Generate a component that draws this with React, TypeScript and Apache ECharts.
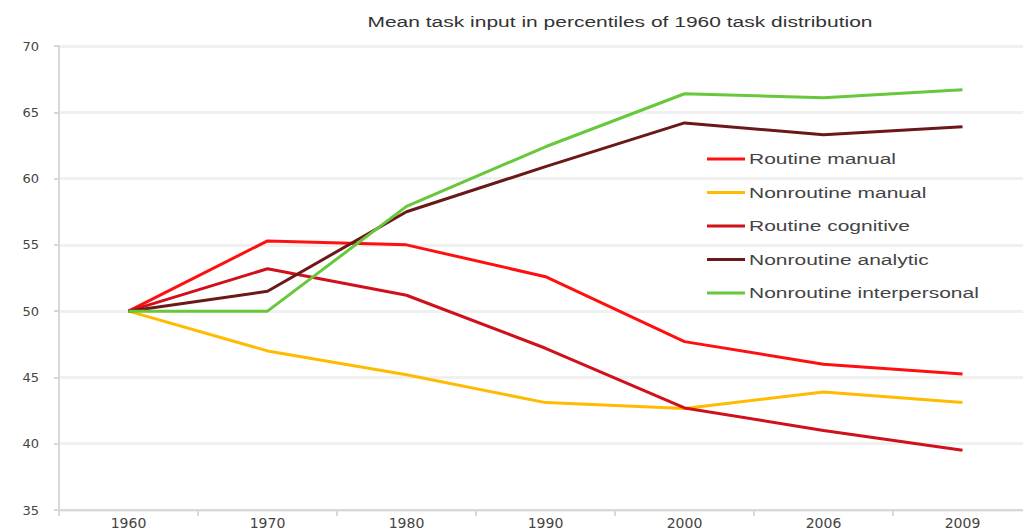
import React, { useEffect, useRef } from "react";
import * as echarts from "echarts";

const years = ["1960", "1970", "1980", "1990", "2000", "2006", "2009"];
const routineManual = [50, 55.3, 55.0, 52.6, 47.7, 46.0, 45.25];
const nonroutineManual = [50, 47.0, 45.2, 43.1, 42.65, 43.9, 43.1];
const routineCognitive = [50, 53.2, 51.2, 47.2, 42.7, 41.0, 39.5];
const nonroutineAnalytic = [50, 51.5, 57.5, 60.9, 64.2, 63.3, 63.9];
const nonroutineInterpersonal = [50, 50, 57.9, 62.4, 66.4, 66.1, 66.7];

const seriesNames = [
  "Routine manual",
  "Nonroutine manual",
  "Routine cognitive",
  "Nonroutine analytic",
  "Nonroutine interpersonal",
];
const seriesData = [routineManual, nonroutineManual, routineCognitive, nonroutineAnalytic, nonroutineInterpersonal];
const seriesColors = ["#ff1010", "#ffbb00", "#d0101a", "#6a1818", "#66c83a"];

const titleText = "Mean task input in percentiles of 1960 task distribution";

export default function App() {
  const ref = useRef<HTMLDivElement>(null);
  useEffect(() => {
    if (!ref.current) return;
    const chart = echarts.init(ref.current, undefined, { renderer: "svg" });

    const legendLeft = 707;
    const legendTop = 159;
    const legendStep = 33.5;
    const legendGraphics: any[] = [];
    seriesNames.forEach((name, i) => {
      const y = legendTop + i * legendStep;
      legendGraphics.push({
        type: "line",
        shape: { x1: legendLeft, y1: y, x2: legendLeft + 38, y2: y },
        style: { stroke: seriesColors[i], lineWidth: 3 },
      });
      legendGraphics.push({
        type: "text",
        x: legendLeft + 42,
        y,
        scaleX: 1.4,
        style: {
          text: name,
          fontFamily: "Liberation Sans",
          fontSize: 15,
          fill: "#444",
          textAlign: "left",
          textVerticalAlign: "middle",
        },
      });
    });

    chart.setOption({
      animation: false,
      backgroundColor: "#ffffff",
      graphic: [
        {
          type: "text",
          x: 620,
          y: 22,
          scaleX: 1.4,
          style: {
            text: titleText,
            fontFamily: "Liberation Sans",
            fontSize: 15,
            fill: "#333",
            textAlign: "center",
            textVerticalAlign: "middle",
          },
        },
        ...legendGraphics,
      ],
      grid: {
        left: 59,
        top: 46,
        width: 973,
        height: 464,
        containLabel: false,
        outerBoundsMode: "none",
      },
      xAxis: {
        type: "category",
        data: years,
        boundaryGap: true,
        axisLine: { lineStyle: { color: "#d8d8d8", width: 2 } },
        axisTick: { show: true, length: 6, lineStyle: { color: "#d8d8d8", width: 2 } },
        axisLabel: {
          fontFamily: "DejaVu Sans",
          fontSize: 14,
          lineHeight: 14,
          color: "#444",
          margin: 6,
        },
      },
      yAxis: {
        type: "value",
        min: 35,
        max: 70,
        interval: 5,
        axisLine: { show: true, lineStyle: { color: "#d8d8d8", width: 2 } },
        axisTick: { show: true, length: 5, lineStyle: { color: "#d8d8d8", width: 2 } },
        axisLabel: { fontFamily: "DejaVu Sans", fontSize: 13, color: "#444", margin: 20 },
        splitLine: { lineStyle: { color: "#f0f0f0", width: 3 } },
      },
      series: seriesNames.map((name, i) => ({
        name,
        type: "line",
        data: seriesData[i],
        symbol: "none",
        showSymbol: false,
        lineStyle: { color: seriesColors[i], width: 3 },
        itemStyle: { color: seriesColors[i] },
      })),
    });
    return () => chart.dispose();
  }, []);
  return (
    <div
      ref={ref}
      style={{ position: "fixed", left: 0, top: 0, width: 1023, height: 531 }}
    />
  );
}
